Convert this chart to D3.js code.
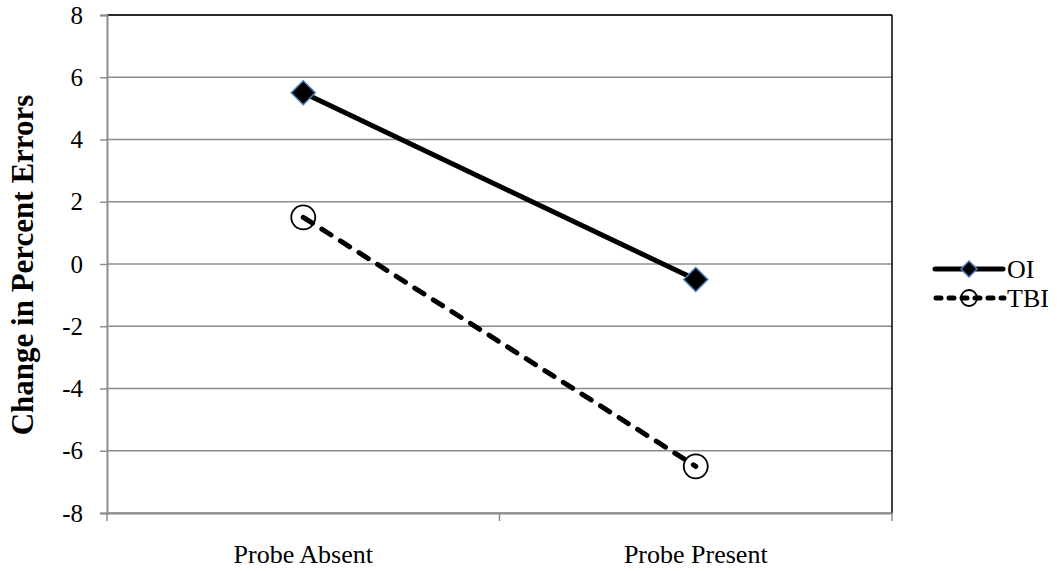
<!DOCTYPE html>
<html><head><meta charset="utf-8">
<script src="https://cdn.jsdelivr.net/npm/d3@7"></script>
<style>body{margin:0;background:#fff}svg{display:block}text{font-family:"Liberation Serif","Times New Roman",serif}</style>
</head><body>
<svg id="c" width="1059" height="571"></svg>
<script>
const categories = ["Probe Absent", "Probe Present"];
const seriesNames = ["OI", "TBI"];
const oiValues = [5.5, -0.5];
const tbiValues = [1.5, -6.5];
const yTicks = [-8, -6, -4, -2, 0, 2, 4, 6, 8];

const svg = d3.select("#c");
const L = 107, R = 892, T = 15, B = 513;
const x = d3.scaleBand().domain(categories).range([L, R]);
const y = d3.scaleLinear().domain([-8, 8]).range([B, T]);
const cx = d => x(d) + x.bandwidth() / 2;

// gridlines
svg.append("g").selectAll("line").data(yTicks).join("line")
  .attr("x1", L).attr("x2", R).attr("y1", d => y(d)).attr("y2", d => y(d))
  .attr("stroke", "#8c8c8c").attr("stroke-width", 1.5);

// plot border top/right
svg.append("line").attr("x1", L).attr("x2", R).attr("y1", T).attr("y2", T).attr("stroke", "#000").attr("stroke-width", 1.5);
svg.append("line").attr("x1", R).attr("x2", R).attr("y1", T).attr("y2", B).attr("stroke", "#000").attr("stroke-width", 1.5);

// y axis
const ya = svg.append("g").attr("transform", `translate(${L},0)`)
  .call(d3.axisLeft(y).tickValues(yTicks).tickSize(7).tickPadding(17).tickFormat(d => String(d)));
ya.attr("font-size", null).attr("font-family", null);
ya.select(".domain").attr("stroke", "#8c8c8c").attr("stroke-width", 2);
ya.selectAll(".tick line").attr("stroke", "#8c8c8c").attr("stroke-width", 1.5);
ya.selectAll("text").style("font-size", "25px").attr("fill", "#000").style("font-family", "Liberation Serif");

// x axis
const xa = svg.append("g").attr("transform", `translate(0,${B})`)
  .call(d3.axisBottom(x).tickSize(0).tickPadding(32));
xa.attr("font-size", null).attr("font-family", null);
xa.select(".domain").attr("stroke", "#8c8c8c").attr("stroke-width", 2);
xa.selectAll("text").style("font-size", "26px").attr("fill", "#000").style("font-family", "Liberation Serif");
svg.append("g").selectAll("line").data([L, x(categories[1]), R]).join("line")
  .attr("x1", d => d).attr("x2", d => d).attr("y1", B).attr("y2", B + 8)
  .attr("stroke", "#8c8c8c").attr("stroke-width", 1.5);

// y title
svg.append("text").attr("transform", `translate(33,${(T + B) / 2 + 1}) rotate(-90)`)
  .attr("text-anchor", "middle").style("font-size", "31px").attr("font-weight", "bold")
  .text("Change in Percent Errors");

const line = d3.line().x(d => cx(d.c)).y(d => y(d.v));
const oi = categories.map((c, i) => ({c, v: oiValues[i]}));
const tbi = categories.map((c, i) => ({c, v: tbiValues[i]}));

function diamondPath(cxp, cyp, s) {
  return `M${cxp},${cyp - s}L${cxp + s},${cyp}L${cxp},${cyp + s}L${cxp - s},${cyp}Z`;
}

// OI
svg.append("path").attr("d", line(oi)).attr("fill", "none").attr("stroke", "#000").attr("stroke-width", 5);
svg.append("g").selectAll("path").data(oi).join("path")
  .attr("d", d => diamondPath(cx(d.c), y(d.v), 12))
  .attr("fill", "#000").attr("stroke", "#4a7ebb").attr("stroke-width", 1.5);

// TBI
svg.append("g").selectAll("circle").data(tbi).join("circle")
  .attr("cx", d => cx(d.c)).attr("cy", d => y(d.v)).attr("r", 12)
  .attr("fill", "#fff").attr("stroke", "#000").attr("stroke-width", 1.8);
svg.append("path").attr("d", line(tbi)).attr("fill", "none").attr("stroke", "#000")
  .attr("stroke-width", 5).attr("stroke-dasharray", "11,11").attr("stroke-linecap", "round");

// legend
const lg = svg.append("g");
const ly = [269, 298];
lg.append("line").attr("x1", 935).attr("x2", 1003).attr("y1", ly[0]).attr("y2", ly[0]).attr("stroke", "#000").attr("stroke-width", 5).attr("stroke-linecap", "round");
lg.append("path").attr("d", diamondPath(969, ly[0], 8)).attr("fill", "#000").attr("stroke", "#4a7ebb").attr("stroke-width", 1.5);
lg.append("circle").attr("cx", 969).attr("cy", ly[1]).attr("r", 8).attr("fill", "#fff").attr("stroke", "#000").attr("stroke-width", 1.8);
lg.append("line").attr("x1", 936).attr("x2", 1004).attr("y1", ly[1]).attr("y2", ly[1]).attr("stroke", "#000")
  .attr("stroke-width", 5).attr("stroke-dasharray", "5,8").attr("stroke-linecap", "round");
lg.selectAll("text").data(seriesNames).join("text")
  .attr("x", 1007).attr("y", (d, i) => ly[i] + 9).style("font-size", "26px").text(d => d);
</script>
</body></html>
